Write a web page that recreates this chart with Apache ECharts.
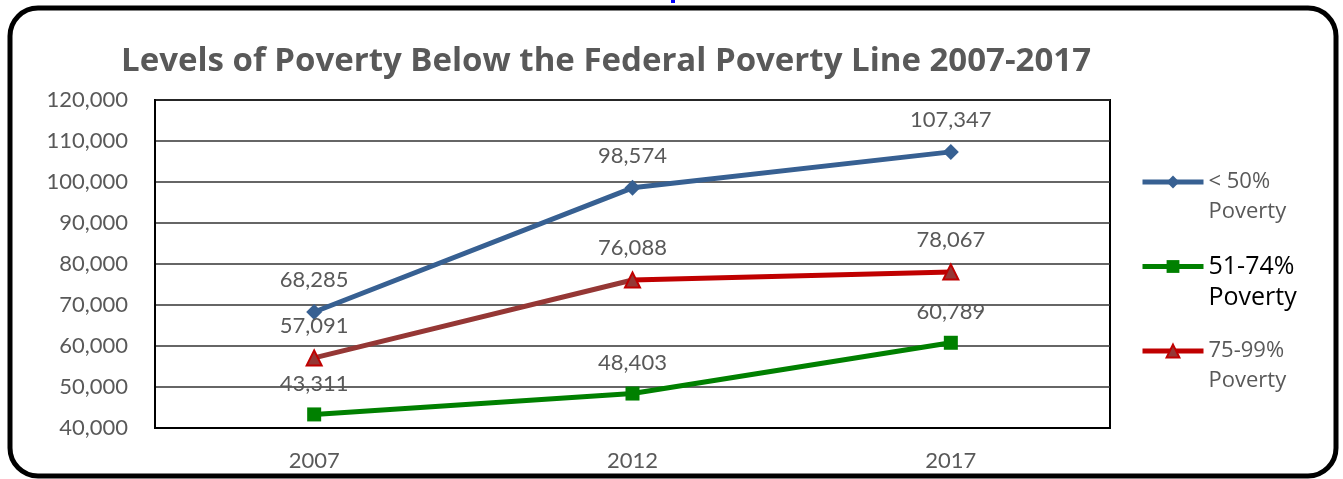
<!DOCTYPE html>
<html>
<head>
<meta charset="utf-8">
<script src="https://cdn.jsdelivr.net/npm/echarts@6/dist/echarts.min.js"></script>
<style>
  html, body { margin: 0; padding: 0; background: #fff; }
  #chart { width: 1343px; height: 479px; }
</style>
</head>
<body>
<div id="chart"></div>
<script>
// Poverty levels below the federal poverty line, 2007-2017
const years = ['2007', '2012', '2017'];
const seriesNames = ['< 50%\nPoverty', '51-74%\nPoverty', '75-99%\nPoverty'];
const under50 = [68285, 98574, 107347];
const from51to74 = [43311, 48403, 60789];
const from75to99 = [57091, 76088, 78067];
const yTicks = { min: 40000, max: 120000, step: 10000 };

const FONT = 'Lato';
const WIDE = 'Open Sans';
const GREY = '#595959';
const BLUE = '#376092';
const GREEN = '#008000';
const RED = '#C00000';
const BROWN = '#953735';

const fmt = v => v.toLocaleString('en-US');

const chart = echarts.init(document.getElementById('chart'));

const labelCfg = {
  show: true,
  position: 'top',
  distance: 13,
  color: GREY,
  fontFamily: FONT,
  fontSize: 22,
  formatter: p => fmt(p.value)
};

// One legend per series so each entry can be placed on its own row;
// a blank leading line puts the first text line level with the icon.
function legendFor(name, top, color, fill, lineColor, size, lh, textColor) {
  return {
    orient: 'vertical',
    left: 1135,
    top: top,
    itemWidth: 61,
    itemHeight: 16,
    formatter: n => ' \n' + n,
    data: [{
      name: name,
      itemStyle: { color: fill, borderColor: color },
      lineStyle: { color: lineColor, width: 5 },
      textStyle: {
        color: textColor,
        fontFamily: WIDE,
        fontSize: size,
        lineHeight: lh
      }
    }]
  };
}

chart.setOption({
  animation: false,
  backgroundColor: '#fff',
  title: {
    text: 'Levels of Poverty Below the Federal Poverty Line 2007-2017',
    left: 116,
    top: 40,
    textStyle: { color: GREY, fontFamily: WIDE, fontWeight: 'bold', fontSize: 33 }
  },
  graphic: [
    {
      type: 'rect',
      shape: { x: 10, y: 8, width: 1326, height: 468, r: 28 },
      style: { fill: null, stroke: '#000', lineWidth: 5 },
      silent: true,
      z: -1
    },
    {
      type: 'rect',
      shape: { x: 671, y: 0, width: 4, height: 3 },
      style: { fill: '#0000FF' },
      silent: true
    }
  ],
  legend: [
    legendFor(seriesNames[0], 132, BLUE, BLUE, BLUE, 22, 30, GREY),
    legendFor(seriesNames[1], 215, GREEN, GREEN, GREEN, 25, 31, '#000'),
    legendFor(seriesNames[2], 301, RED, BROWN, RED, 22, 30, GREY)
  ],
  grid: {
    left: 155, right: 233, top: 100, bottom: 51,
    show: true, borderColor: '#000', borderWidth: 2
  },
  xAxis: {
    type: 'category',
    data: years,
    boundaryGap: true,
    axisLine: { show: true, lineStyle: { color: '#000', width: 2 } },
    axisTick: { show: false },
    axisLabel: { color: GREY, fontFamily: FONT, fontSize: 22, margin: 22 }
  },
  yAxis: {
    type: 'value',
    min: yTicks.min,
    max: yTicks.max,
    interval: yTicks.step,
    axisLine: { show: true, lineStyle: { color: '#000', width: 2 } },
    axisTick: { show: false },
    axisLabel: { color: GREY, fontFamily: FONT, fontSize: 22, margin: 27, formatter: v => fmt(v) },
    splitLine: { lineStyle: { color: '#333', width: 1.5 } }
  },
  series: [
    {
      name: seriesNames[0],
      type: 'line',
      data: under50,
      symbol: 'diamond',
      symbolSize: 16,
      lineStyle: { color: BLUE, width: 5 },
      itemStyle: { color: BLUE },
      label: labelCfg
    },
    {
      name: seriesNames[1],
      type: 'line',
      data: from51to74,
      symbol: 'rect',
      symbolSize: 14,
      lineStyle: { color: GREEN, width: 5 },
      itemStyle: { color: GREEN },
      label: labelCfg
    },
    {
      name: seriesNames[2],
      type: 'line',
      data: from75to99,
      symbol: 'triangle',
      symbolSize: 15,
      lineStyle: {
        width: 5,
        color: {
          type: 'linear', x: 0, y: 0, x2: 1, y2: 0,
          colorStops: [
            { offset: 0, color: BROWN },
            { offset: 0.5, color: BROWN },
            { offset: 0.5, color: RED },
            { offset: 1, color: RED }
          ]
        }
      },
      itemStyle: { color: BROWN, borderColor: RED, borderWidth: 2 },
      label: labelCfg
    }
  ]
});
</script>
</body>
</html>
